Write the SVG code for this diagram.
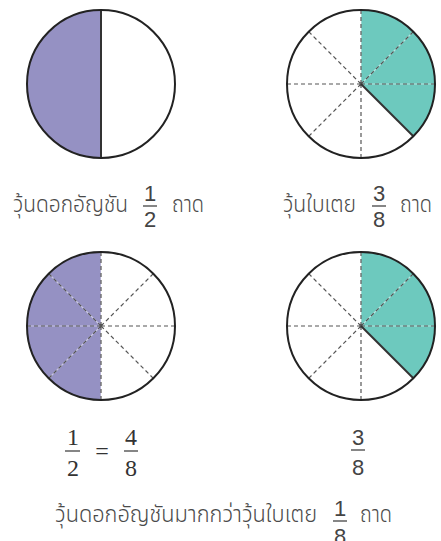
<svg xmlns="http://www.w3.org/2000/svg" width="441" height="541" viewBox="0 0 441 541">
<defs>
<style>
.bg{fill:#ffffff}
.rim{fill:none;stroke:#222222;stroke-width:2}
.purple{fill:#9591c3}
.green{fill:#6dc9be}
.solid{stroke:#333333;stroke-width:2;fill:none}
.under{stroke:#ffffff;stroke-opacity:0.5;stroke-width:1.2;fill:none}
.dash{stroke:#555555;stroke-width:1.2;stroke-dasharray:4 3;fill:none}
.th{font-family:"Noto Sans Thai","Noto Sans","DejaVu Sans",sans-serif;font-size:23px;font-weight:300;fill:#4a4a4a}
.num{font-family:"Liberation Sans",sans-serif;font-size:22px;fill:#444444;text-anchor:middle}
.snum{font-family:"Liberation Serif",serif;font-size:24px;fill:#333333;text-anchor:middle}
.bar{stroke:#444444;stroke-width:1.3}
</style>
<g id="spokes">
<path class="under" d="M0,0V-74M0,0L52.33,-52.33M0,0H74M0,0L52.33,52.33M0,0V74M0,0L-52.33,52.33M0,0H-74M0,0L-52.33,-52.33"/>
<path class="dash" d="M0,0V-74M0,0L52.33,-52.33M0,0H74M0,0V74M0,0L-52.33,52.33M0,0H-74M0,0L-52.33,-52.33"/>
</g>
</defs>
<rect class="bg" x="0" y="0" width="441" height="541"/>

<g id="circle1">
<circle cx="101" cy="84" r="74" fill="#ffffff"/>
<path class="purple" d="M101,10 A74,74 0 0 0 101,158 Z"/>
<line class="solid" x1="101" y1="10" x2="101" y2="158"/>
<circle class="rim" cx="101" cy="84" r="74"/>
</g>

<g id="circle2">
<circle cx="361" cy="84" r="74" fill="#ffffff"/>
<path class="green" d="M361,84 L361,10 A74,74 0 0 1 413.33,136.33 Z"/>
<use href="#spokes" transform="translate(361,84)"/>
<line class="solid" x1="361" y1="84" x2="413.33" y2="136.33"/>
<circle class="rim" cx="361" cy="84" r="74"/>
</g>

<g id="circle3">
<circle cx="101" cy="326" r="74" fill="#ffffff"/>
<path class="purple" d="M101,252 A74,74 0 0 0 101,400 Z"/>
<use href="#spokes" transform="translate(101,326)"/>
<line class="dash" x1="101" y1="326" x2="153.33" y2="378.33"/>
<circle class="rim" cx="101" cy="326" r="74"/>
</g>

<g id="circle4">
<circle cx="361" cy="326" r="74" fill="#ffffff"/>
<path class="green" d="M361,326 L361,252 A74,74 0 0 1 413.33,378.33 Z"/>
<use href="#spokes" transform="translate(361,326)"/>
<line class="solid" x1="361" y1="326" x2="413.33" y2="378.33"/>
<circle class="rim" cx="361" cy="326" r="74"/>
</g>

<g id="label1">
<text class="th" x="13" y="212" textLength="115" lengthAdjust="spacingAndGlyphs">วุ้นดอกอัญชัน</text>
<text class="num" x="150" y="201">1</text>
<line class="bar" x1="143" y1="206" x2="157" y2="206"/>
<text class="num" x="150" y="227">2</text>
<text class="th" x="172" y="212" textLength="32" lengthAdjust="spacingAndGlyphs">ถาด</text>
</g>

<g id="label2">
<text class="th" x="283" y="212" textLength="73" lengthAdjust="spacingAndGlyphs">วุ้นใบเตย</text>
<text class="num" x="379" y="201">3</text>
<line class="bar" x1="372" y1="206" x2="386" y2="206"/>
<text class="num" x="379" y="227">8</text>
<text class="th" x="400" y="212" textLength="32" lengthAdjust="spacingAndGlyphs">ถาด</text>
</g>

<g id="label3">
<text class="snum" x="73" y="445">1</text>
<line class="bar" x1="65" y1="451" x2="80" y2="451"/>
<text class="snum" x="73" y="476">2</text>
<text class="snum" x="102" y="459">=</text>
<text class="snum" x="131" y="445">4</text>
<line class="bar" x1="124" y1="451" x2="138" y2="451"/>
<text class="snum" x="131" y="476">8</text>
</g>

<g id="label4">
<text class="num" x="358" y="445">3</text>
<line class="bar" x1="351" y1="450" x2="365" y2="450"/>
<text class="num" x="358" y="475">8</text>
</g>

<g id="label5">
<text class="th" x="55" y="522" textLength="262" lengthAdjust="spacingAndGlyphs">วุ้นดอกอัญชันมากกว่าวุ้นใบเตย</text>
<text class="num" x="340" y="516">1</text>
<line class="bar" x1="333" y1="521" x2="347" y2="521"/>
<text class="num" x="340" y="544">8</text>
<text class="th" x="360" y="522" textLength="32" lengthAdjust="spacingAndGlyphs">ถาด</text>
</g>
</svg>
